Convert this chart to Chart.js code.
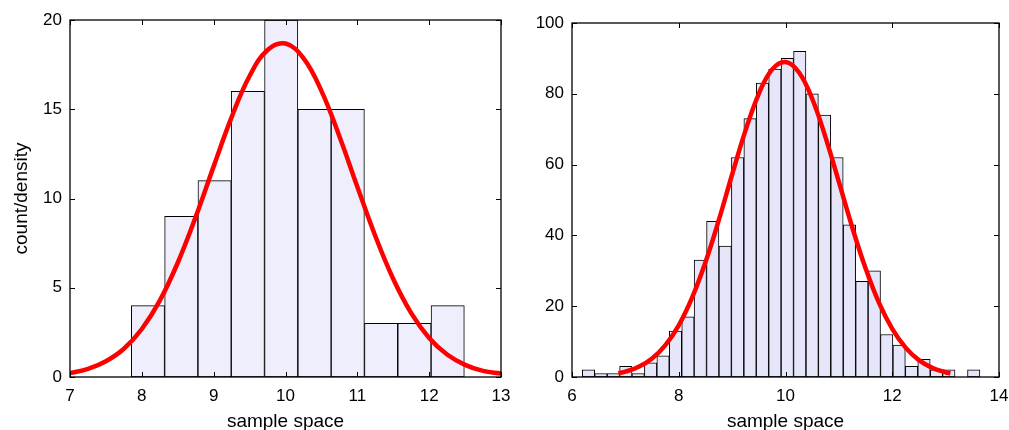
<!DOCTYPE html>
<html>
<head>
<meta charset="utf-8">
<script src="https://cdn.jsdelivr.net/npm/chart.js@4/dist/chart.umd.min.js"></script>
<style>
  body { margin: 0; background: #fff; overflow: hidden; }
  #wrap { position: relative; width: 1009px; height: 430px; }
  .box { position: absolute; top: 0; height: 430px; }
</style>
</head>
<body>
<div id="wrap">
  <div class="box" style="left:0;width:515px"><canvas id="leftChart"></canvas></div>
  <div class="box" style="left:515px;width:494px"><canvas id="rightChart"></canvas></div>
</div>
<script>
// left: 100 samples, 10 bins
const leftBins = [8.085, 8.549, 9.013, 9.476, 9.940, 10.404, 10.867, 11.331, 11.795, 12.258];
const leftCounts = [4, 9, 11, 16, 20, 15, 15, 3, 3, 4];
const leftCurveX = [7, 7.25, 7.5, 7.75, 8, 8.25, 8.5, 8.75, 9, 9.25, 9.5, 9.75, 10, 10.25, 10.5, 10.75, 11, 11.25, 11.5, 11.75, 12, 12.25, 12.5, 12.75, 13];
const leftCurveY = [0.22, 0.45, 0.88, 1.58, 2.69, 4.28, 6.4, 8.97, 11.8, 14.56, 16.86, 18.32, 18.68, 17.86, 16.03, 13.49, 10.66, 7.9, 5.49, 3.58, 2.19, 1.26, 0.68, 0.34, 0.2];
const leftXTicks = [7, 13, 1];
const leftYTicks = [0, 20, 5];

// right: 1000 samples, 32 bins
const rightBins = [6.309, 6.542, 6.775, 7.008, 7.240, 7.473, 7.706, 7.939, 8.172, 8.404, 8.637, 8.870,
  9.103, 9.336, 9.568, 9.801, 10.034, 10.267, 10.500, 10.732, 10.965, 11.198, 11.431, 11.664,
  11.896, 12.129, 12.362, 12.595, 12.828, 13.060, 13.293, 13.526];
const rightCounts = [2, 1, 1, 3, 1, 4, 6, 13, 17, 33, 44, 37, 62, 73, 83, 87, 90, 92, 80, 74, 62, 43, 27, 30,
  12, 9, 3, 5, 2, 2, 0, 2];
const rightCurveX = [6.87, 7, 7.25, 7.5, 7.75, 8, 8.25, 8.5, 8.75, 9, 9.25, 9.5, 9.75, 10, 10.25, 10.5, 10.75, 11, 11.25, 11.5, 11.75, 12, 12.25, 12.5, 12.75, 13, 13.09];
const rightCurveY = [1.03, 1.49, 2.87, 5.23, 9.0, 14.6, 22.4, 32.4, 44.3, 57.2, 69.6, 80.0, 86.9, 89.0, 86.1, 78.6, 67.7, 55.1, 42.3, 30.7, 21.0, 13.6, 8.29, 4.77, 2.59, 1.33, 1.03];
const rightXTicks = [6, 14, 2];
const rightYTicks = [0, 100, 20];

const FAMILY = "'Liberation Sans', Arial, sans-serif";
const TICKFONT = { family: FAMILY, size: 17 };
const TITLEFONT = { family: FAMILY, size: 19 };

// matlab style box with inward ticks
const boxPlugin = {
  id: 'boxPlugin',
  afterDatasetsDraw(chart) {
    const { ctx, chartArea: a, scales } = chart;
    ctx.save();
    ctx.strokeStyle = '#000';
    ctx.lineWidth = 1;
    ctx.beginPath();
    scales.x.ticks.forEach(t => {
      const px = Math.round(scales.x.getPixelForValue(t.value)) + 0.5;
      ctx.moveTo(px, a.bottom); ctx.lineTo(px, a.bottom - 5);
      ctx.moveTo(px, a.top); ctx.lineTo(px, a.top + 5);
    });
    scales.y.ticks.forEach(t => {
      const py = Math.round(scales.y.getPixelForValue(t.value)) + 0.5;
      ctx.moveTo(a.left, py); ctx.lineTo(a.left + 5, py);
      ctx.moveTo(a.right, py); ctx.lineTo(a.right - 5, py);
    });
    ctx.stroke();
    ctx.lineWidth = 1.3;
    ctx.strokeRect(a.left, a.top, a.right - a.left, a.bottom - a.top);
    ctx.restore();
  }
};

function makeChart(id, bins, counts, cx, cy, xt, yt, barColor, pad, yWidth, yTitle) {
  const bars = bins.map((b, i) => ({ x: b, y: counts[i] }));
  const curve = cx.map((x, i) => ({ x: x, y: cy[i] }));
  return new Chart(document.getElementById(id), {
    type: 'bar',
    data: {
      datasets: [
        {
          type: 'line', data: curve, order: 0,
          borderColor: '#ff0000', borderWidth: 4.5, pointRadius: 0,
          tension: 0.4, fill: false
        },
        {
          type: 'bar', data: bars, order: 1,
          backgroundColor: barColor, borderColor: '#000', borderWidth: 1,
          borderSkipped: false, barPercentage: 1, categoryPercentage: 1
        }
      ]
    },
    options: {
      responsive: true,
      maintainAspectRatio: false,
      animation: false,
      layout: { padding: pad },
      plugins: { legend: { display: false }, tooltip: { enabled: false } },
      scales: {
        x: {
          type: 'linear', min: xt[0], max: xt[1], offset: false,
          ticks: { stepSize: xt[2], color: '#000', font: TICKFONT, padding: 9, maxRotation: 0 },
          grid: { display: false, drawTicks: false },
          border: { display: false },
          title: { display: true, text: 'sample space', color: '#000', font: TITLEFONT, padding: { top: 0, bottom: -3 } },
          afterFit(s) { s.height = 53; s.paddingLeft = 0; s.paddingRight = 0; }
        },
        y: {
          min: yt[0], max: yt[1],
          ticks: { stepSize: yt[2], color: '#000', font: TICKFONT, padding: 8 },
          grid: { display: false, drawTicks: false },
          border: { display: false },
          title: { display: !!yTitle, text: yTitle || '', color: '#000', font: TITLEFONT, padding: { top: 10, bottom: 0 } },
          afterFit(s) { s.width = yWidth; s.paddingTop = 0; s.paddingBottom = 0; }
        }
      }
    },
    plugins: [boxPlugin]
  });
}

makeChart('leftChart', leftBins, leftCounts, leftCurveX, leftCurveY, leftXTicks, leftYTicks,
  '#eeeefc', { left: 0, right: 14, top: 20, bottom: 0 }, 70, 'count/density');
makeChart('rightChart', rightBins, rightCounts, rightCurveX, rightCurveY, rightXTicks, rightYTicks,
  '#e6e6fa', { left: 0, right: 10, top: 23, bottom: 0 }, 57, '');
</script>
</body>
</html>
